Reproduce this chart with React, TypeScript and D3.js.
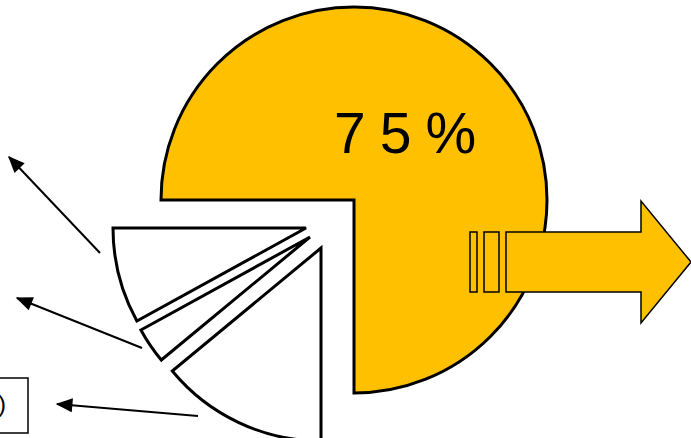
import React from "react";
import * as d3 from "d3";

// ---- data ----
const sliceNames = ["main", "bottom", "middle", "top"];
const sliceValues = [75, 14, 3, 8];
const sliceFills = ["#FFC000", "#FFFFFF", "#FFFFFF", "#FFFFFF"];
const mainLabel = "75%";
const boxLabel = "(14%)";

// ---- layout ----
const W = 691;
const H = 438;
const CX = 354;
const CY = 200;
const R = 193;
const explodeOffsets: [number, number][] = [
  [0, 0],
  [-33, 48],
  [-44, 37],
  [-48, 28],
];
const calloutArrows = [
  { x1: 100, y1: 253, x2: 9, y2: 157 },
  { x1: 142, y1: 348, x2: 17, y2: 298 },
  { x1: 198, y1: 416, x2: 57, y2: 404 },
];

export default function App() {
  const pie = d3
    .pie<number>()
    .sort(null)
    .startAngle(-Math.PI / 2)
    .endAngle((3 * Math.PI) / 2);
  const arcs = pie(sliceValues);
  const arcGen = d3.arc<d3.PieArcDatum<number>>().innerRadius(0).outerRadius(R);

  const blockArrow = d3.line()([
    [506, 232],
    [641, 232],
    [641, 201],
    [691, 262],
    [641, 323],
    [641, 292],
    [506, 292],
  ]) + "Z";

  return (
    <svg
      width={W}
      height={H}
      style={{ position: "absolute", left: 0, top: 0, background: "#fff" }}
      fontFamily="'Liberation Sans', Arial, sans-serif"
    >
      <defs>
        <marker
          id="ah"
          viewBox="0 0 12 10"
          refX="11"
          refY="5"
          markerWidth="9"
          markerHeight="7"
          markerUnits="strokeWidth"
          orient="auto"
        >
          <path d="M0,0 L12,5 L0,10 Z" fill="#000" />
        </marker>
      </defs>
      {arcs.map((a, i) => (
        <path
          key={sliceNames[i]}
          d={arcGen(a) || ""}
          transform={`translate(${CX + explodeOffsets[i][0]},${CY + explodeOffsets[i][1]})`}
          fill={sliceFills[i]}
          stroke="#000"
          strokeWidth={3}
          strokeLinejoin="miter"
        />
      ))}
      <text
        x={334}
        y={153}
        fontSize={57}
        letterSpacing={14}
        fill="#000"
      >
        {mainLabel}
      </text>
      {calloutArrows.map((a, i) => (
        <line
          key={i}
          x1={a.x1}
          y1={a.y1}
          x2={a.x2}
          y2={a.y2}
          stroke="#000"
          strokeWidth={2}
          markerEnd="url(#ah)"
        />
      ))}
      <rect x={-40} y={378} width={68} height={55} fill="#fff" stroke="#000" strokeWidth={1.5} />
      <text x={6} y={412} fontSize={24} textAnchor="end" fill="#000">
        {boxLabel}
      </text>
      <rect x={470} y={232} width={7} height={60} fill="#FFC000" stroke="#000" strokeWidth={1.5} />
      <rect x={484} y={232} width={15} height={60} fill="#FFC000" stroke="#000" strokeWidth={1.5} />
      <path d={blockArrow} fill="#FFC000" stroke="#000" strokeWidth={1.5} />
    </svg>
  );
}
